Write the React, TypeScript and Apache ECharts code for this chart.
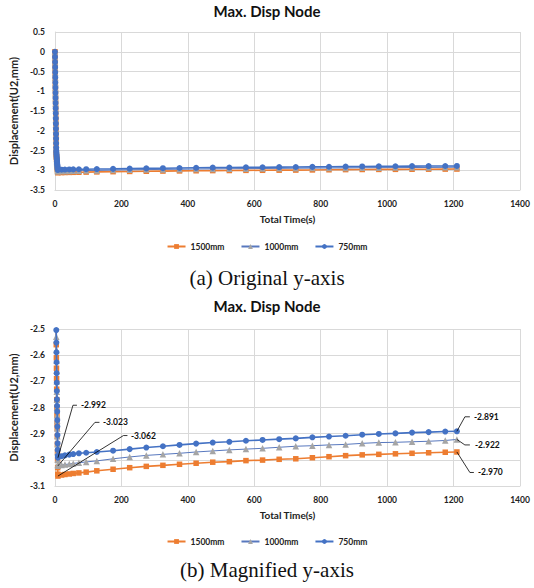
import React, { useEffect, useRef } from "react";
import * as echarts from "echarts";

// ---------- data ----------
const chartTitle = "Max. Disp Node";
const captions = ["(a) Original y-axis", "(b) Magnified y-axis"];
const xAxisTitle = "Total Time(s)";
const yAxisTitle = "Displacement(U2,mm)";
const seriesNames = ["1500mm", "1000mm", "750mm"];

// x axis range [min, max, interval]
const xRange = [0, 1400, 200];
// y axis ranges [min, max, interval]
const yRangeOriginal = [-3.5, 0.5, 0.5];
const yRangeMagnified = [-3.1, -2.5, 0.1];

// loading phase (initial drop)
const dropTime = [0, 0.2, 0.4, 0.6, 0.8, 1.0, 1.2, 1.4, 1.6, 1.8, 2.0, 2.2, 2.4, 2.6, 2.8, 3.0, 3.2, 3.4, 3.6, 3.8,
  4.0, 4.3, 4.6, 4.9, 5.2, 5.5, 5.8, 6.1, 6.4, 6.7, 7.0, 7.3, 7.6, 7.9, 8.2, 8.5];
const drop1500 = [0, -0.13, -0.27, -0.4, -0.53, -0.67, -0.8, -0.93, -1.06, -1.2, -1.33, -1.46, -1.6, -1.73, -1.86, -2.0, -2.13, -2.25, -2.37, -2.49,
  -2.56, -2.61, -2.65, -2.69, -2.73, -2.77, -2.8, -2.83, -2.86, -2.88, -2.91, -2.94, -2.97, -3.0, -3.03, -3.055];
const drop1000 = [0, -0.13, -0.26, -0.39, -0.53, -0.66, -0.79, -0.92, -1.05, -1.18, -1.31, -1.44, -1.58, -1.71, -1.84, -1.97, -2.1, -2.22, -2.34, -2.45,
  -2.53, -2.58, -2.62, -2.66, -2.7, -2.74, -2.77, -2.8, -2.83, -2.85, -2.88, -2.91, -2.94, -2.97, -3.0, -3.018];
const drop750 = [0, -0.13, -0.26, -0.39, -0.52, -0.65, -0.78, -0.91, -1.04, -1.17, -1.3, -1.43, -1.56, -1.69, -1.82, -1.95, -2.08, -2.2, -2.32, -2.43,
  -2.504, -2.552, -2.589, -2.627, -2.669, -2.705, -2.737, -2.769, -2.794, -2.816, -2.848, -2.873, -2.905, -2.937, -2.962, -2.985];

// creep phase
const holdTime = [9, 20, 30, 43, 55, 72, 94, 126, 175, 225, 275, 325, 375, 425, 475, 525, 575, 625, 675, 725, 775, 825,
  875, 925, 975, 1025, 1075, 1125, 1175, 1210];
const hold1500 = [-3.062, -3.058, -3.056, -3.054, -3.052, -3.05, -3.047, -3.042, -3.036, -3.03, -3.025, -3.021, -3.017, -3.013,
  -3.009, -3.007, -3.003, -3.001, -2.998, -2.996, -2.992, -2.988, -2.984, -2.981, -2.979, -2.977, -2.975, -2.973, -2.971, -2.97];
const hold1000 = [-3.023, -3.02, -3.018, -3.016, -3.014, -3.011, -3.008, -3.004, -2.996, -2.989, -2.983, -2.979, -2.975, -2.97,
  -2.966, -2.962, -2.959, -2.956, -2.952, -2.948, -2.946, -2.943, -2.941, -2.937, -2.934, -2.933, -2.931, -2.929, -2.926, -2.922];
const hold750 = [-2.992, -2.986, -2.983, -2.98, -2.978, -2.975, -2.973, -2.97, -2.965, -2.959, -2.953, -2.948, -2.943, -2.938,
  -2.934, -2.931, -2.927, -2.924, -2.921, -2.918, -2.914, -2.911, -2.908, -2.904, -2.901, -2.899, -2.896, -2.894, -2.892, -2.891];

const allTime = [...dropTime, ...holdTime];
const seriesValues = [
  [...drop1500, ...hold1500],
  [...drop1000, ...hold1000],
  [...drop750, ...hold750],
];

// ---------- styles ----------
const FONT = "Lato";
const lineColors = ["#ED7D31", "#5878BE", "#4472C4"];
const markerColors = ["#ED7D31", "#A5A5A5", "#4472C4"];
const symbols = ["rect", "triangle", "circle"];
const symbolSizes = [5.5, 6.5, 6];
const lineWidths = [1.6, 1, 1.6];
const gridColor = "#D9D9D9";

// annotation layout: [seriesIndex, "first"|"last", bend dx, bend dy, end dx, text dx]
const annotations: [number, string, number, number, number, number][] = [
  [2, "first", 15, -52.5, 19, 23],
  [1, "first", 37, -43.5, 41.5, 45],
  [0, "first", 65.5, -40.5, 69.5, 73],
  [2, "last", 8, -14.5, 13, 17],
  [1, "last", 8, 5.5, 13, 18],
  [0, "last", 13, 20.5, 17, 21],
];

const grids = [
  { left: 47, top: 32, width: 473, height: 158 },
  { left: 45, top: 329, width: 475, height: 157 },
];

export default function App() {
  const ref = useRef<HTMLDivElement>(null);
  useEffect(() => {
    if (!ref.current) return;
    const chart = echarts.init(ref.current, undefined, { renderer: "svg" });
    const axisLabel = { fontFamily: FONT, fontWeight: "bold", fontSize: 8.5, color: "#222", formatter: (v: number) => String(v) };
    const yRanges = [yRangeOriginal, yRangeMagnified];
    const series: any[] = [];
    [0, 1].forEach((g) => {
      seriesNames.forEach((name, s) => {
        series.push({
          type: "line",
          name,
          xAxisIndex: g,
          yAxisIndex: g,
          data: allTime.map((t, i) => [t, seriesValues[s][i]]),
          symbol: symbols[s],
          symbolSize: symbolSizes[s],
          showAllSymbol: true,
          lineStyle: { color: lineColors[s], width: lineWidths[s] },
          itemStyle: { color: markerColors[s], borderWidth: 0 },
          clip: true,
          z: 2 + s,
        });
      });
    });
    const legendText = { fontFamily: FONT, fontWeight: "bold", fontSize: 8.5, color: "#222" };
    const titleText = { fontFamily: FONT, fontWeight: "bold", fontSize: 15, color: "#111" };
    const captionText = { fontFamily: "Liberation Serif", fontWeight: "normal", fontSize: 21, color: "#111" };
    const option: any = {
      animation: false,
      backgroundColor: "#fff",
      title: [
        { text: chartTitle, left: "center", top: 3, padding: 0, textStyle: titleText },
        { text: chartTitle, left: "center", top: 298, padding: 0, textStyle: titleText },
        { text: captions[0], left: "center", top: 267, padding: 0, textStyle: captionText },
        { text: captions[1], left: "center", top: 559, padding: 0, textStyle: captionText },
      ],
      legend: [
        { data: seriesNames, left: "center", top: 242, itemWidth: 18, itemHeight: 6, itemGap: 16, padding: 0, textStyle: legendText },
        { data: seriesNames, left: "center", top: 537, itemWidth: 18, itemHeight: 6, itemGap: 16, padding: 0, textStyle: legendText },
      ],
      grid: grids.map((g) => ({ ...g, containLabel: false })),
      xAxis: [0, 1].map((g) => ({
        type: "value",
        gridIndex: g,
        min: xRange[0],
        max: xRange[1],
        interval: xRange[2],
        name: xAxisTitle,
        nameLocation: "middle",
        nameGap: 24,
        nameTextStyle: { fontFamily: FONT, fontWeight: "bold", fontSize: 10, color: "#222" },
        axisLine: { show: true, onZero: false, lineStyle: { color: gridColor } },
        axisTick: { show: false },
        axisLabel: { ...axisLabel, margin: 9 },
        splitLine: { show: true, lineStyle: { color: gridColor, width: 1 } },
      })),
      yAxis: [0, 1].map((g) => ({
        type: "value",
        gridIndex: g,
        min: yRanges[g][0],
        max: yRanges[g][1],
        interval: yRanges[g][2],
        name: yAxisTitle,
        nameLocation: "middle",
        nameGap: g === 0 ? 27 : 30,
        nameRotate: 90,
        nameTextStyle: { fontFamily: FONT, fontWeight: "bold", fontSize: 11, color: "#222" },
        axisLine: { show: true, onZero: false, lineStyle: { color: gridColor } },
        axisTick: { show: false },
        axisLabel: { ...axisLabel, margin: 10 },
        splitLine: { show: true, lineStyle: { color: gridColor, width: 1 } },
      })),
      series,
    };
    chart.setOption(option);

    const graphics: any[] = [];
    annotations.forEach(([s, which, bdx, bdy, edx, tdx]) => {
      const idx = which === "first" ? dropTime.length : allTime.length - 1;
      const t = allTime[idx];
      const v = seriesValues[s][idx];
      const p = chart.convertToPixel({ gridIndex: 1 } as any, [t, v]) as number[];
      if (!p) return;
      graphics.push({
        type: "polyline",
        z: 100,
        silent: true,
        shape: { points: [[p[0], p[1]], [p[0] + bdx, p[1] + bdy], [p[0] + edx, p[1] + bdy]] },
        style: { stroke: "#000", lineWidth: 0.8, fill: null },
      });
      graphics.push({
        type: "text",
        z: 100,
        silent: true,
        x: p[0] + tdx,
        y: p[1] + bdy,
        style: {
          text: v.toFixed(3),
          fill: "#111",
          font: `bold 8.5px ${FONT}`,
          align: "left",
          verticalAlign: "middle",
        },
      });
    });
    chart.setOption({ graphic: graphics });

    return () => chart.dispose();
  }, []);
  return (
    <div
      ref={ref}
      style={{ position: "fixed", left: 0, top: 0, width: 534, height: 588, background: "#fff" }}
    />
  );
}
